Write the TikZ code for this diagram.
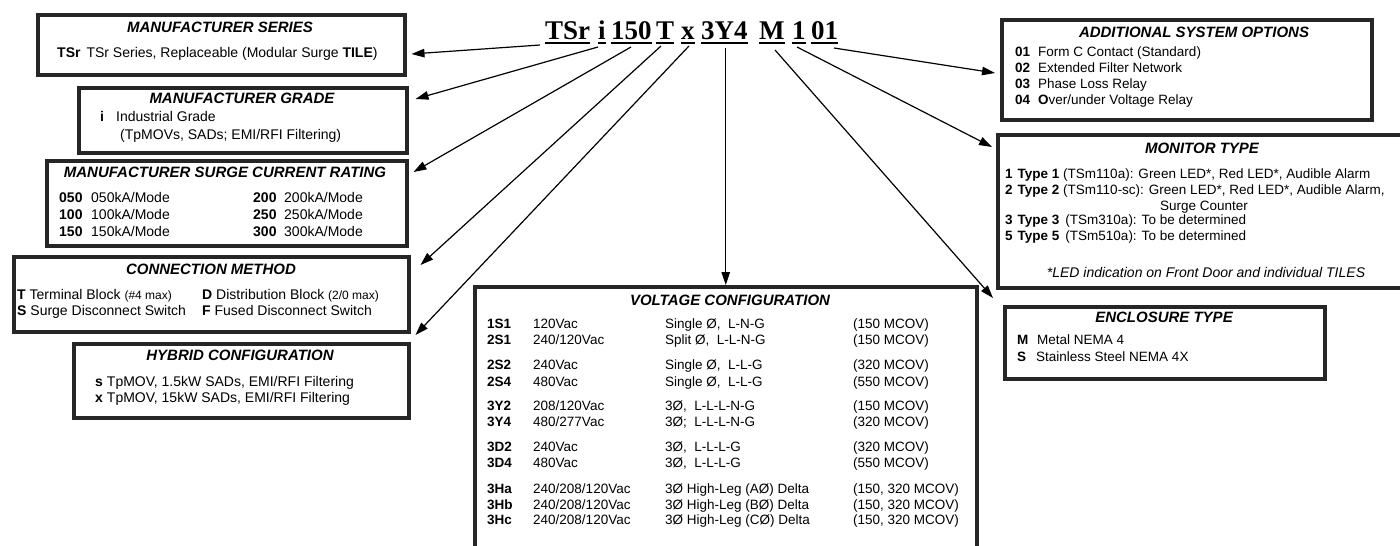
\documentclass[tikz,border=0pt]{standalone}
\usepackage{fontspec}
\setmainfont{Liberation Sans}
\newfontfamily\codefont{Liberation Serif}
\usetikzlibrary{arrows.meta,calc}
\begin{document}
\begin{tikzpicture}[x=1pt,y=-1pt,
  box/.style={draw=black!85, line width=3.5pt, inner sep=0, anchor=north west},
  ttl/.style={font=\fontsize{15}{17}\selectfont\bfseries\itshape, inner sep=0, anchor=base},
  txt/.style={font=\fontsize{14}{16}\selectfont, inner sep=0, anchor=base west},
  vtxt/.style={font=\fontsize{13.5}{16}\selectfont, inner sep=0, anchor=base west},
  codeseg/.style={font=\codefont\fontsize{27}{30}\selectfont\bfseries, inner sep=0, anchor=base west},
  conn/.style={line width=1.2pt, -{Triangle[length=13pt,width=8.5pt]}},
  uline/.style={line width=1.8pt}]
\useasboundingbox[fill=white] (0,0) rectangle (1400,546);

% ---------- code ----------
\node[codeseg] (cTSr) at (545,39) {TSr};
\node[codeseg] (cI) at (598,39) {i};
\node[codeseg] (c150) at (611,39) {150};
\node[codeseg] (cT) at (656,39) {T};
\node[codeseg] (cX) at (681,39) {x};
\node[codeseg] (c3Y4) at (701,39) {3Y4};
\node[codeseg] (cM) at (759,39) {M};
\node[codeseg] (c1) at (792,39) {1};
\node[codeseg] (c01) at (811,39) {01};
\foreach \c in {cTSr,cI,c150,cT,cX,c3Y4,cM,c1,c01}{
  \draw[uline] ($(\c.base west)+(0,4)$) -- ($(\c.base east)+(0,4)$);
}

% ---------- boxes ----------
\node[box, minimum width=367, minimum height=60] (series) at (36,13) {};
\node[box, minimum width=328, minimum height=65] (grade) at (77,86) {};
\node[box, minimum width=360, minimum height=85] (rating) at (45,159) {};
\node[box, minimum width=395, minimum height=75] (method) at (12,255) {};
\node[box, minimum width=335, minimum height=74] (hybrid) at (72,342) {};
\node[box, minimum width=502, minimum height=270] (volt) at (473,285) {};
\node[box, minimum width=370, minimum height=100] (options) at (1000,18) {};
\node[box, minimum width=410, minimum height=153] (monitor) at (996,133) {};
\node[box, minimum width=320, minimum height=72] (encl) at (1003,305) {};

% ---------- connectors ----------
\coordinate (sTSr) at ($(cTSr.base west)+(-5,6)$);
\coordinate (sI) at ($(cI.base west)+(0,8)$);
\coordinate (s150) at ($(c150.base west)+(20,8)$);
\coordinate (sT) at ($(cT.base west)+(5,7)$);
\coordinate (sX) at ($(cX.base west)+(8,7)$);
\coordinate (s3Y4) at ($(volt.north |- c3Y4.base)+(0,9)$);
\coordinate (sM) at ($(cM.base west)+(16,11)$);
\coordinate (s1) at ($(c1.base west)+(5,8)$);
\coordinate (s01) at ($(c01.base west)+(23,9)$);
\draw[conn] (sTSr) -- ($(series.north east)+(5,41)$);
\draw[conn] (sI) -- ($(grade.north east)+(7,13)$);
\draw[conn] (s150) -- ($(rating.north east)+(5,13)$);
\draw[conn] (sT) -- ($(method.north east)+(10,10)$);
\draw[conn] (sX) -- ($(hybrid.north east)+(5,-7)$);
\draw[conn] (s3Y4) -- (volt.north);
\draw[conn] (sM) -- ($(encl.north west)+(-10,-7)$);
\draw[conn] (s1) -- ($(monitor.north west)+(-4,14)$);
\draw[conn] (s01) -- ($(options.north west)+(-5,55)$);

% ---------- MANUFACTURER SERIES ----------
\node[ttl] (t1) at (220,32.5) {MANUFACTURER SERIES};
\node[txt] (b1) at (57,57) {\textbf{TSr}\hspace{6pt}TSr Series, Replaceable (Modular Surge \textbf{TILE})};

% ---------- MANUFACTURER GRADE ----------
\node[ttl] (t2) at (242,103.5) {MANUFACTURER GRADE};
\node[txt] (b2a) at (100,121) {\textbf{i}};
\node[txt] (b2b) at (116,121) {Industrial Grade};
\node[txt] (b2c) at (120,139) {(TpMOVs, SADs; EMI/RFI Filtering)};

% ---------- SURGE CURRENT RATING ----------
\node[ttl] (t3) at (225,177.5) {MANUFACTURER SURGE CURRENT RATING};
\node[txt] (r1a) at (59,202) {\textbf{050}};
\node[txt] (r1b) at (91,202) {050kA/Mode};
\node[txt] (r2a) at (59,219) {\textbf{100}};
\node[txt] (r2b) at (91,219) {100kA/Mode};
\node[txt] (r3a) at (59,236) {\textbf{150}};
\node[txt] (r3b) at (91,236) {150kA/Mode};
\node[txt] (r4a) at (253,202) {\textbf{200}};
\node[txt] (r4b) at (284,202) {200kA/Mode};
\node[txt] (r5a) at (253,219) {\textbf{250}};
\node[txt] (r5b) at (284,219) {250kA/Mode};
\node[txt] (r6a) at (253,236) {\textbf{300}};
\node[txt] (r6b) at (284,236) {300kA/Mode};

% ---------- CONNECTION METHOD ----------
\node[ttl] (t4) at (211,274.5) {CONNECTION METHOD};
\node[txt] (m1) at (17,299) {\textbf{T} Terminal Block {\fontsize{12}{14}\selectfont(\#4 max)}};
\node[txt] (m2) at (202,299) {\textbf{D} Distribution Block {\fontsize{12}{14}\selectfont(2/0 max)}};
\node[txt] (m3) at (17,315) {\textbf{S} Surge Disconnect Switch};
\node[txt] (m4) at (202,315) {\textbf{F} Fused Disconnect Switch};

% ---------- HYBRID CONFIGURATION ----------
\node[ttl] (t5) at (240,360.5) {HYBRID CONFIGURATION};
\node[txt] (h1) at (95,386) {\textbf{s}\hspace{4pt}TpMOV, 1.5kW SADs, EMI/RFI Filtering};
\node[txt] (h2) at (95,402) {\textbf{x}\hspace{4pt}TpMOV, 15kW SADs, EMI/RFI Filtering};

% ---------- VOLTAGE CONFIGURATION ----------
\node[ttl] (t6) at (730,305.5) {VOLTAGE CONFIGURATION};
\foreach \y/\n/\c/\v/\d/\m in {
  328.5/a/{1S1}/{120Vac}/{Single Ø,\ \ L-N-G}/{(150 MCOV)},
  344.5/b/{2S1}/{240/120Vac}/{Split Ø,\ \ L-L-N-G}/{(150 MCOV)},
  369.5/c/{2S2}/{240Vac}/{Single Ø,\ \ L-L-G}/{(320 MCOV)},
  386/d/{2S4}/{480Vac}/{Single Ø,\ \ L-L-G}/{(550 MCOV)},
  410.5/e/{3Y2}/{208/120Vac}/{3Ø,\ \ L-L-L-N-G}/{(150 MCOV)},
  426.5/f/{3Y4}/{480/277Vac}/{3Ø;\ \ L-L-L-N-G}/{(320 MCOV)},
  451.5/g/{3D2}/{240Vac}/{3Ø,\ \ L-L-L-G}/{(320 MCOV)},
  467.5/h/{3D4}/{480Vac}/{3Ø,\ \ L-L-L-G}/{(550 MCOV)},
  493.5/i/{3Ha}/{240/208/120Vac}/{3Ø High-Leg (AØ) Delta}/{(150, 320 MCOV)},
  509/j/{3Hb}/{240/208/120Vac}/{3Ø High-Leg (BØ) Delta}/{(150, 320 MCOV)},
  524.5/k/{3Hc}/{240/208/120Vac}/{3Ø High-Leg (CØ) Delta}/{(150, 320 MCOV)}}{
  \node[vtxt] (vc\n) at (487,\y) {\textbf{\c}};
  \node[vtxt] (vv\n) at (533,\y) {\v};
  \node[vtxt] (vd\n) at (665,\y) {\d};
  \node[vtxt] (vm\n) at (853,\y) {\m};
}

% ---------- ADDITIONAL SYSTEM OPTIONS ----------
\node[ttl] (t7) at (1194,37.5) {ADDITIONAL SYSTEM OPTIONS};
\node[vtxt] (o1a) at (1015,56.5) {\textbf{01}};
\node[vtxt] (o1b) at (1038,56.5) {Form C Contact (Standard)};
\node[vtxt] (o2a) at (1015,72.5) {\textbf{02}};
\node[vtxt] (o2b) at (1038,72.5) {Extended Filter Network};
\node[vtxt] (o3a) at (1015,88.5) {\textbf{03}};
\node[vtxt] (o3b) at (1038,88.5) {Phase Loss Relay};
\node[vtxt] (o4a) at (1015,104.5) {\textbf{04}};
\node[vtxt] (o4b) at (1038,104.5) {\textbf{O}ver/under Voltage Relay};

% ---------- MONITOR TYPE ----------
\node[ttl] (t8) at (1202,153.5) {MONITOR TYPE};
\node[vtxt] (n1) at (1005,178.5) {\textbf{1}\hspace{5pt}\textbf{Type 1} (TSm110a):\hspace{5pt}Green LED*, Red LED*, Audible Alarm};
\node[vtxt] (n2) at (1005,194.5) {\textbf{2}\hspace{5pt}\textbf{Type 2} (TSm110-sc):\hspace{5pt}Green LED*, Red LED*, Audible Alarm,};
\node[vtxt] (n2b) at (1160,210.5) {Surge Counter};
\node[vtxt] (n3) at (1005,224.5) {\textbf{3}\hspace{5pt}\textbf{Type 3}\hspace{6pt}(TSm310a):\hspace{5pt}To be determined};
\node[vtxt] (n5) at (1005,240.5) {\textbf{5}\hspace{5pt}\textbf{Type 5}\hspace{6pt}(TSm510a):\hspace{5pt}To be determined};
\node[vtxt, anchor=base, font=\fontsize{14}{16}\selectfont\itshape] (nf) at (1206,277) {*LED indication on Front Door and individual TILES};

% ---------- ENCLOSURE TYPE ----------
\node[ttl] (t9) at (1164,322.5) {ENCLOSURE TYPE};
\node[vtxt] (e1a) at (1017,344.5) {\textbf{M}};
\node[vtxt] (e1b) at (1037,344.5) {Metal NEMA 4};
\node[vtxt] (e2a) at (1017,361.5) {\textbf{S}};
\node[vtxt] (e2b) at (1036,361.5) {Stainless Steel NEMA 4X};
\end{tikzpicture}
\end{document}
